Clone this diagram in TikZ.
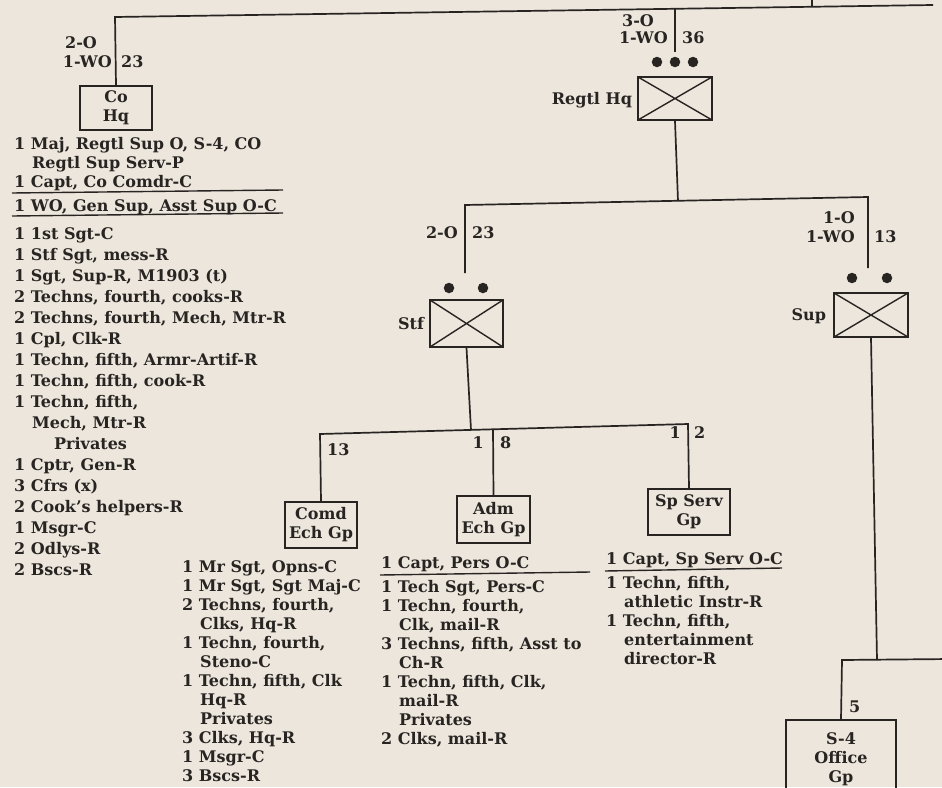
\documentclass[tikz,border=0pt]{standalone}
\usepackage{fontspec}
\setmainfont{DejaVu Serif}
\usetikzlibrary{positioning}

\definecolor{paper}{RGB}{236,230,220}
\definecolor{ink}{RGB}{40,36,34}

\newcommand{\ind}{\hspace*{18pt}}

\tikzset{
  wire/.style={draw=ink, line width=1.7pt},
  chart/.style={font=\fontsize{16}{19}\selectfont\bfseries, text=ink},
  lbl/.style={chart, inner sep=0pt, text height=11.6pt, text depth=0pt},
  roster/.style={chart, align=left, anchor=north west, inner sep=0pt},
  gpbox/.style={chart, draw=ink, line width=1.7pt, align=center, inner sep=1pt},
  xbox/.style={draw=ink, line width=1.7pt, inner sep=0pt,
    path picture={\draw[ink, line width=1.4pt]
      (path picture bounding box.north west) -- (path picture bounding box.south east)
      (path picture bounding box.south west) -- (path picture bounding box.north east);}},
  dot/.style={circle, fill=ink, inner sep=0pt, minimum size=10.5pt},
}

\begin{document}
\begin{tikzpicture}[x=1pt, y=-1pt]
\useasboundingbox (0,0) rectangle (942,787);
\fill[paper] (0,0) rectangle (942,787);
\clip (0,0) rectangle (942,787);

% unit boxes
\node[gpbox, minimum width=72pt, minimum height=44pt] (cohq) at (116,108) {Co\\Hq};
\node[xbox, minimum width=74pt, minimum height=43pt] (regtl) at (675,98.5) {};
\node[xbox, minimum width=73pt, minimum height=47pt] (stf) at (466.5,323.5) {};
\node[xbox, minimum width=74pt, minimum height=44pt] (sup) at (871,315) {};
\node[gpbox, minimum width=72pt, minimum height=46pt] (comd) at (321,525) {Comd\\Ech Gp};
\node[gpbox, minimum width=73pt, minimum height=47pt] (adm) at (493.5,519.5) {Adm\\Ech Gp};
\node[gpbox, minimum width=82pt, minimum height=46pt, inner sep=0pt] (spserv) at (689,512) {Sp Serv\\Gp};
\node[gpbox, anchor=north, minimum width=110pt, minimum height=78pt] (sfour) at (841,719) {S-4\\Office\\Gp};

% size dots
\foreach \n/\x in {1/657,2/675,3/693}
  \node[dot] (regtl-d\n) at (\x,62) {};
\foreach \n/\x in {1/449,2/483}
  \node[dot] (stf-d\n) at (\x,288) {};
\foreach \n/\x in {1/852,2/887}
  \node[dot] (sup-d\n) at (\x,278) {};

% junctions
\coordinate (top-w) at (115,17);
\coordinate (top-e) at (933,5);
\coordinate (top-up) at (812,-4);
\coordinate (top-j) at (812,6);
\coordinate (regtl-in) at (675,9);
\coordinate (regtl-end) at (675,52);
\coordinate (regtl-out) at (678,201);
\coordinate (stf-top) at (465,205);
\coordinate (stf-end) at (465,273);
\coordinate (sup-top) at (868,197);
\coordinate (sup-end) at (868,268);
\coordinate (ech-w) at (320,434);
\coordinate (ech-m) at (471,430);
\coordinate (ech-a) at (493,429);
\coordinate (ech-e) at (688,424);
\coordinate (sup-j) at (877,660);
\coordinate (sfour-j) at (842,660);
\coordinate (sfour-e) at (950,659);

\draw[wire] (cohq.north) -- (top-w) -- (top-e);
\draw[wire] (top-up) -- (top-j);
\draw[wire] (regtl-in) -- (regtl-end);
\draw[wire] (regtl.south) -- (regtl-out);
\draw[wire] (stf-end) -- (stf-top) -- (sup-top) -- (sup-end);
\draw[wire] (stf.south) -- (ech-m);
\draw[wire] (comd.north) -- (ech-w) -- (ech-e) -- (spserv.north);
\draw[wire] (adm.north) -- (ech-a);
\draw[wire] (sup.south) -- (sup-j);
\draw[wire] (sfour.north) -- (sfour-j) -- (sfour-e);

% strengths and names
\node[lbl, anchor=west] (cohq-off) at (65,43) {2-O};
\node[lbl, anchor=east] (cohq-wo) at (112,62) {1-WO};
\node[lbl, anchor=west] (cohq-em) at (121,62) {23};
\node[lbl, anchor=west] (regtl-off) at (622,21) {3-O};
\node[lbl, anchor=east] (regtl-wo) at (668,38) {1-WO};
\node[lbl, anchor=west] (regtl-em) at (682,38) {36};
\node[lbl, left=5pt of regtl] (regtl-name) {Regtl Hq};
\node[lbl, anchor=east] (stf-off) at (458,233) {2-O};
\node[lbl, anchor=west] (stf-em) at (472,233) {23};
\node[lbl, left=5pt of stf] (stf-name) {Stf};
\node[lbl, anchor=east] (sup-off) at (855,218) {1-O};
\node[lbl, anchor=east] (sup-wo) at (855,237) {1-WO};
\node[lbl, anchor=west] (sup-em) at (874,237) {13};
\node[lbl, left=7pt of sup] (sup-name) {Sup};
\node[lbl, anchor=west] (comd-em) at (327,450) {13};
\node[lbl, anchor=east] (adm-off) at (484,443) {1};
\node[lbl, anchor=west] (adm-em) at (500,443) {8};
\node[lbl, anchor=east] (spserv-off) at (681,433) {1};
\node[lbl, anchor=west] (spserv-em) at (694,433) {2};
\node[lbl, anchor=west] (sfour-em) at (849,707) {5};

% rosters
\node[roster] (cohq-offr) at (14,137) {1 Maj, Regtl Sup O, S-4, CO\\\ind Regtl Sup Serv-P\\1 Capt, Co Comdr-C};
\draw[wire, line width=1.4pt] (12,193) -- (283,190);
\node[roster] (cohq-wor) at (14,199) {1 WO, Gen Sup, Asst Sup O-C};
\draw[wire, line width=1.4pt] (12,216) -- (283,213);
\node[roster, font=\fontsize{16}{21}\selectfont\bfseries] (cohq-enl) at (14,227) {1 1st Sgt-C\\1 Stf Sgt, mess-R\\1 Sgt, Sup-R, M1903 (t)\\2 Techns, fourth, cooks-R\\2 Techns, fourth, Mech, Mtr-R\\1 Cpl, Clk-R\\1 Techn, fifth, Armr-Artif-R\\1 Techn, fifth, cook-R\\1 Techn, fifth,\\\ind Mech, Mtr-R\\\hspace*{40pt}Privates\\1 Cptr, Gen-R\\3 Cfrs (x)\\2 Cook's helpers-R\\1 Msgr-C\\2 Odlys-R\\2 Bscs-R};

\node[roster] (comd-list) at (182,560) {1 Mr Sgt, Opns-C\\1 Mr Sgt, Sgt Maj-C\\2 Techns, fourth,\\\ind Clks, Hq-R\\1 Techn, fourth,\\\ind Steno-C\\1 Techn, fifth, Clk\\\ind Hq-R\\\ind Privates\\3 Clks, Hq-R\\1 Msgr-C\\3 Bscs-R};

\node[roster] (adm-offr) at (381,556) {1 Capt, Pers O-C};
\draw[wire, line width=1.4pt] (380,575) -- (590,572);
\node[roster] (adm-list) at (381,580) {1 Tech Sgt, Pers-C\\1 Techn, fourth,\\\ind Clk, mail-R\\3 Techns, fifth, Asst to\\\ind Ch-R\\1 Techn, fifth, Clk,\\\ind mail-R\\\ind Privates\\2 Clks, mail-R};

\node[roster] (spserv-offr) at (606,552) {1 Capt, Sp Serv O-C};
\draw[wire, line width=1.4pt] (605,571) -- (782,568);
\node[roster] (spserv-list) at (606,576) {1 Techn, fifth,\\\ind athletic Instr-R\\1 Techn, fifth,\\\ind entertainment\\\ind director-R};
\end{tikzpicture}
\end{document}
